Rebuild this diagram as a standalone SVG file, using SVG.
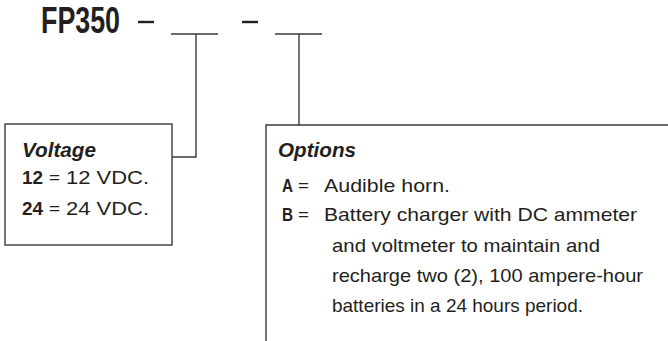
<svg xmlns="http://www.w3.org/2000/svg" width="668" height="341" viewBox="0 0 668 341">
<style>
  text { font-family: "Liberation Sans", Arial, sans-serif; fill: #231f20; }
  .t { font-size: 36px; font-weight: bold; }
  .h { font-size: 20px; font-weight: bold; font-style: italic; }
  .b { font-size: 19px; font-weight: bold; }
  .n { font-size: 19px; }
  .e { font-size: 15px; }
  .ln { stroke: #3a3a3a; stroke-width: 1.4; fill: none; }
  .d { stroke: #231f20; stroke-width: 2.4; }
</style>
<rect width="668" height="341" fill="#ffffff"/>
<g id="title">
  <text class="t" x="41" y="33" textLength="79" lengthAdjust="spacingAndGlyphs">FP350</text>
  <line class="d" x1="138" y1="22" x2="154" y2="22"/>
  <line class="d" x1="242" y1="22" x2="258" y2="22"/>
  <line class="ln" x1="171" y1="34" x2="218" y2="34"/>
  <line class="ln" x1="275" y1="34" x2="322" y2="34"/>
</g>
<g id="connectors">
  <polyline class="ln" points="196,34 196,157 172,157"/>
  <line class="ln" x1="299" y1="34" x2="299" y2="125"/>
</g>
<g id="voltage">
  <rect class="ln" x="5" y="124" width="167" height="121"/>
  <text class="h" x="22" y="157" textLength="74" lengthAdjust="spacingAndGlyphs">Voltage</text>
  <text class="b" x="22" y="184" textLength="21" lengthAdjust="spacingAndGlyphs">12</text>
  <text class="e" x="49" y="183" textLength="11" lengthAdjust="spacingAndGlyphs">=</text>
  <text class="n" x="66" y="184" textLength="83" lengthAdjust="spacingAndGlyphs">12 VDC.</text>
  <text class="b" x="22" y="215" textLength="21" lengthAdjust="spacingAndGlyphs">24</text>
  <text class="e" x="49" y="214" textLength="11" lengthAdjust="spacingAndGlyphs">=</text>
  <text class="n" x="66" y="215" textLength="83" lengthAdjust="spacingAndGlyphs">24 VDC.</text>
</g>
<g id="options">
  <polyline class="ln" points="266,341 266,125 668,125"/>
  <text class="h" x="278" y="157" textLength="78" lengthAdjust="spacingAndGlyphs">Options</text>
  <text class="b" x="282" y="192" textLength="11" lengthAdjust="spacingAndGlyphs">A</text>
  <text class="e" x="298" y="191" textLength="11" lengthAdjust="spacingAndGlyphs">=</text>
  <text class="n" x="324" y="192" textLength="126" lengthAdjust="spacingAndGlyphs">Audible horn.</text>
  <text class="b" x="282" y="221" textLength="11" lengthAdjust="spacingAndGlyphs">B</text>
  <text class="e" x="298" y="220" textLength="11" lengthAdjust="spacingAndGlyphs">=</text>
  <text class="n" x="324" y="221" textLength="313" lengthAdjust="spacingAndGlyphs">Battery charger with DC ammeter</text>
  <text class="n" x="332" y="252" textLength="268" lengthAdjust="spacingAndGlyphs">and voltmeter to maintain and</text>
  <text class="n" x="332" y="282" textLength="311" lengthAdjust="spacingAndGlyphs">recharge two (2), 100 ampere-hour</text>
  <text class="n" x="332" y="312" textLength="251" lengthAdjust="spacingAndGlyphs">batteries in a 24 hours period.</text>
</g>
</svg>
